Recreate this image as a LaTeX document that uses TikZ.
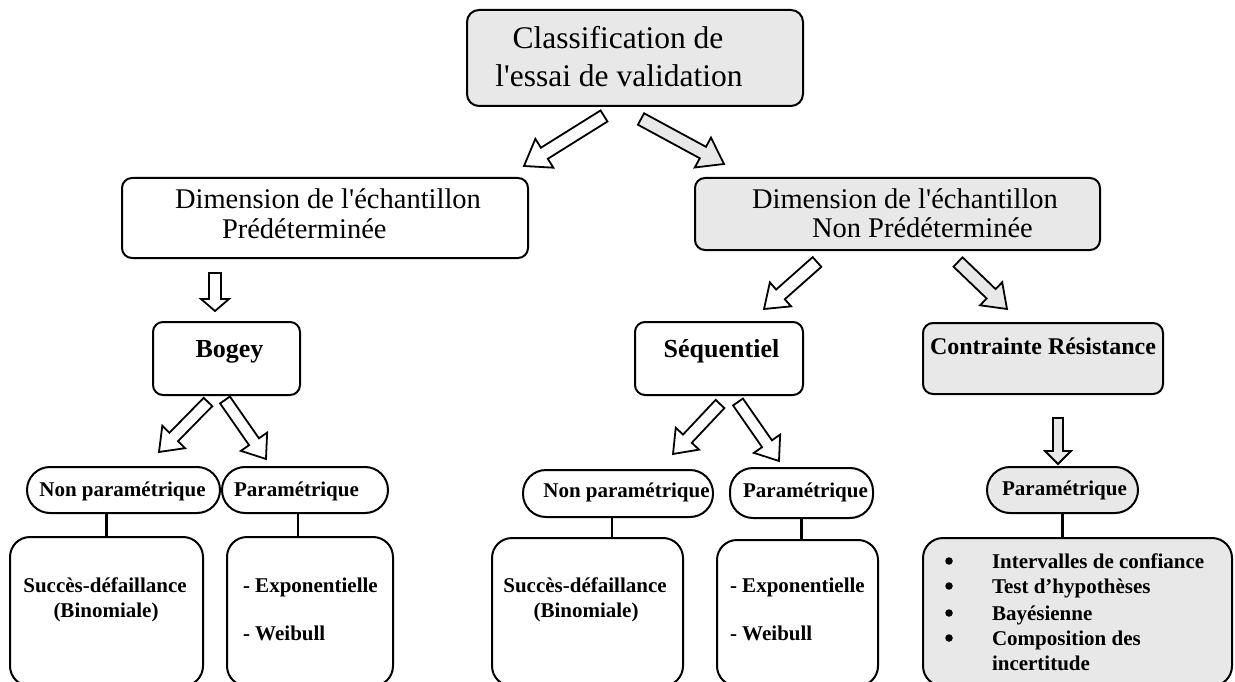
\documentclass[tikz,border=0pt]{standalone}
\usepackage{fontspec}
\setmainfont{Liberation Serif}[Ligatures=TeXOff]
\definecolor{boxgray}{RGB}{232,232,232}
\newcommand\hollowarr[6]{% #1 fill, #2 tail, #3 tip, #4 shaft width, #5 head width, #6 head length
  \pgfpointdiff{\pgfpointanchor{#2}{center}}{\pgfpointanchor{#3}{center}}%
  \pgfgetlastxy{\hadx}{\hady}%
  \pgfmathsetmacro\haang{atan2(\hady,\hadx)}%
  \pgfmathsetmacro\halen{veclen(\hadx,\hady)}%
  \pgfmathsetmacro\habase{\halen-#6}%
  \pgfmathsetmacro\hasw{#4/2}%
  \pgfmathsetmacro\hahw{#5/2}%
  \draw[blockarr, fill=#1, shift={(#2)}, rotate=\haang]
    (0pt,-\hasw pt) -- (\habase pt,-\hasw pt) -- (\habase pt,-\hahw pt) -- (\halen pt,0pt)
    -- (\habase pt,\hahw pt) -- (\habase pt,\hasw pt) -- (0pt,\hasw pt) -- cycle;}
\begin{document}
\begin{tikzpicture}[x=1pt,y=-1pt,
  every node/.style={inner sep=0pt, outer sep=0pt},
  box/.style={draw, line width=2pt, rectangle, rounded corners=#1},
  box/.default=10pt,
  pill/.style={draw, line width=2pt, rectangle, rounded corners=23pt},
  blockarr/.style={draw, line width=1.8pt, line join=miter},
  conn/.style={draw, line width=2.2pt},
  bulletdot/.style={circle, fill=black, minimum size=7.5pt},
  ftop/.style={font=\fontsize{31.5}{36}\selectfont},
  fmid/.style={font=\fontsize{28.5}{32}\selectfont},
  fhead/.style={font=\fontsize{26}{30}\selectfont\bfseries},
  fhead2/.style={font=\fontsize{24}{28}\selectfont\bfseries},
  fsmall/.style={font=\fontsize{21}{25}\selectfont\bfseries}]
\useasboundingbox (0,0) rectangle (1235,682);

% top box
\node[box=12pt, fill=boxgray, minimum width=336pt, minimum height=96pt] (top) at (635,58) {};
\node[ftop, anchor=base] (top1) at (618,49) {Classification de};
\node[ftop, anchor=base] (top2) at (619,87) {l'essai de validation};

% second level
\node[box, minimum width=406pt, minimum height=80pt] (pre) at (325,218) {};
\node[fmid, anchor=base west] (pre1) at (175,208) {Dimension de l'échantillon};
\node[fmid, anchor=base west] (pre2) at (222,238) {Prédéterminée};

\node[box, fill=boxgray, minimum width=405pt, minimum height=72pt] (npre) at (897.5,214) {};
\node[fmid, anchor=base west] (npre1) at (752,208) {Dimension de l'échantillon};
\node[fmid, anchor=base west] (npre2) at (812,237) {Non Prédéterminée};

% third level
\node[box, minimum width=147pt, minimum height=73pt] (bogey) at (226.5,358.5) {};
\node[fhead, anchor=base] (bogeyt) at (229.5,357) {Bogey};
\node[box, minimum width=168pt, minimum height=73pt] (seq) at (719,358.5) {};
\node[fhead, anchor=base] (seqt) at (721.5,357) {Séquentiel};
\node[box, fill=boxgray, minimum width=240pt, minimum height=71pt] (cr) at (1043,358.5) {};
\node[fhead2, anchor=base] (crt) at (1043,354) {Contrainte Résistance};

% pills
\node[pill, minimum width=193pt, minimum height=46pt] (np1) at (123.5,490) {};
\node[fsmall, anchor=base] (np1t) at (122.5,496) {Non paramétrique};
\node[pill, minimum width=166pt, minimum height=46pt] (p1) at (305,490) {};
\node[fsmall, anchor=base] (p1t) at (296.5,496) {Paramétrique};
\node[pill, minimum width=190pt, minimum height=47pt] (np2) at (618,493.5) {};
\node[fsmall, anchor=base] (np2t) at (626.5,497) {Non paramétrique};
\node[pill, minimum width=143pt, minimum height=50pt] (p2) at (801.5,493) {};
\node[fsmall, anchor=base] (p2t) at (805.5,497) {Paramétrique};
\node[pill, fill=boxgray, minimum width=151pt, minimum height=46pt] (p3) at (1062.5,490) {};
\node[fsmall, anchor=base] (p3t) at (1064.5,495) {Paramétrique};

% bottom boxes
\node[box=20pt, minimum width=193pt, minimum height=149pt] (a1) at (106.5,611.5) {};
\node[fsmall, anchor=base] (a1t1) at (105,592) {Succès-défaillance};
\node[fsmall, anchor=base] (a1t2) at (106,617) {(Binomiale)};
\node[box=20pt, minimum width=166pt, minimum height=149pt] (a2) at (310,611.5) {};
\node[fsmall, anchor=base west] (a2t1) at (243,592) {- Exponentielle};
\node[fsmall, anchor=base west] (a2t2) at (243,640) {- Weibull};

\node[box=20pt, minimum width=191pt, minimum height=148pt] (b1) at (587.5,612) {};
\node[fsmall, anchor=base] (b1t1) at (585,592) {Succès-défaillance};
\node[fsmall, anchor=base] (b1t2) at (586,617) {(Binomiale)};
\node[box=20pt, minimum width=161pt, minimum height=146pt] (b2) at (797.5,613) {};
\node[fsmall, anchor=base west] (b2t1) at (730,592) {- Exponentielle};
\node[fsmall, anchor=base west] (b2t2) at (730,640) {- Weibull};

\node[box=20pt, fill=boxgray, minimum width=309pt, minimum height=148pt] (c) at (1077.5,612) {};
\node[bulletdot] (cb1) at (949,561) {};
\node[fsmall, anchor=base west] (ct1) at (992,568) {Intervalles de confiance};
\node[bulletdot] (cb2) at (949,586) {};
\node[fsmall, anchor=base west] (ct2) at (992,593) {Test d’hypothèses};
\node[bulletdot] (cb3) at (949,613) {};
\node[fsmall, anchor=base west] (ct3) at (992,620) {Bayésienne};
\node[bulletdot] (cb4) at (949,638) {};
\node[fsmall, anchor=base west] (ct4) at (992,645) {Composition des};
\node[fsmall, anchor=base west] (ct5) at (992,670) {incertitude};

% straight connectors
\draw[conn] (np1.south -| a1.north) -- (a1.north);
\draw[conn] ([xshift=-12pt]a2.north |- p1.south) -- ([xshift=-12pt]a2.north);
\draw[conn] ([xshift=-6pt]np2.south) -- ([xshift=-6pt]np2.south |- b1.north);
\draw[conn] (p2.south) -- (p2.south |- b2.north);
\draw[conn] (p3.south) -- (p3.south |- c.north);

% block arrow end points
\coordinate (tl0) at (604,116);  \coordinate (tl1) at (524,166);
\coordinate (tr0) at (641,119);  \coordinate (tr1) at (724,164);
\coordinate (nl0) at (817,262);  \coordinate (nl1) at (764,309);
\coordinate (nr0) at (958,262);  \coordinate (nr1) at (1007,309);
\coordinate (bl0) at (208,402);  \coordinate (bl1) at (159,452);
\coordinate (br0) at (225,400);  \coordinate (br1) at (266,459);
\coordinate (sl0) at (720,404);  \coordinate (sl1) at (673,454);
\coordinate (sr0) at (738,402);  \coordinate (sr1) at (779,461);
\coordinate (dl0) at (215,273);  \coordinate (dl1) at (215,311);
\coordinate (dr0) at (1058,418); \coordinate (dr1) at (1058,464);

\hollowarr{white}{tl0}{tl1}{13}{34}{24}
\hollowarr{boxgray}{tr0}{tr1}{13}{34}{24}
\hollowarr{white}{nl0}{nl1}{13}{32}{22}
\hollowarr{boxgray}{nr0}{nr1}{13}{32}{22}
\hollowarr{white}{bl0}{bl1}{12}{32}{21}
\hollowarr{white}{br0}{br1}{12}{32}{21}
\hollowarr{white}{sl0}{sl1}{12}{32}{21}
\hollowarr{white}{sr0}{sr1}{12}{32}{21}
\hollowarr{white}{dl0}{dl1}{12}{28}{12}
\hollowarr{boxgray}{dr0}{dr1}{10}{26}{13}
\end{tikzpicture}
\end{document}
